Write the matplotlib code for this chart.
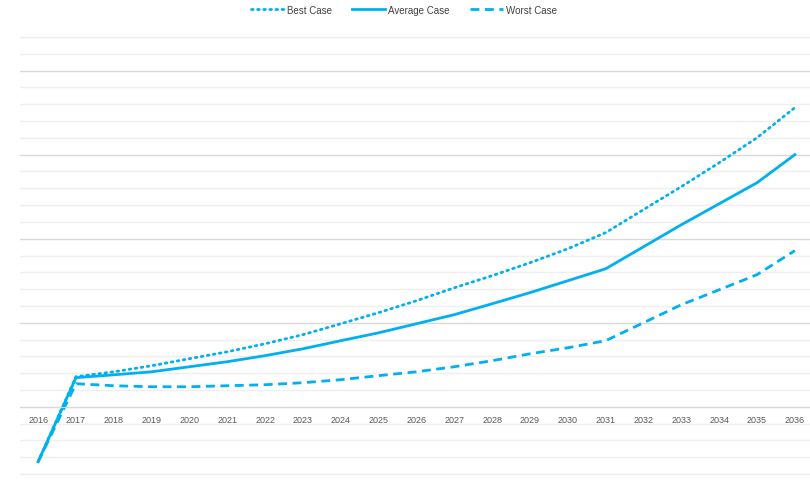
import matplotlib.pyplot as plt
from matplotlib.ticker import MultipleLocator

plt.rcParams['font.family'] = ['Liberation Sans', 'DejaVu Sans']

years = list(range(2016, 2037))

best_case = [-3.27, 1.79, 2.08, 2.44, 2.86, 3.27, 3.75, 4.29, 4.94, 5.60, 6.31,
             7.08, 7.80, 8.57, 9.40, 10.36, 11.73, 13.10, 14.52, 16.01, 17.80]
average_case = [-3.27, 1.73, 1.90, 2.08, 2.38, 2.68, 3.04, 3.45, 3.93, 4.40, 4.94,
                5.48, 6.13, 6.79, 7.50, 8.21, 9.52, 10.83, 12.08, 13.33, 15.00]
worst_case = [-3.27, 1.37, 1.25, 1.19, 1.19, 1.25, 1.31, 1.43, 1.61, 1.85, 2.08,
              2.38, 2.74, 3.15, 3.51, 3.93, 5.00, 6.07, 6.96, 7.86, 9.29]

blue = '#00b0f0'

fig = plt.figure(figsize=(8.1, 4.89), dpi=100)
ax = fig.add_axes([20 / 810, 1 - 480 / 489, 790 / 810, 447 / 489])

ax.plot(years, best_case, color=blue, lw=2.0, linestyle=(0, (0.6, 1.6)),
        dash_capstyle='round', label='Best Case')
ax.plot(years, average_case, color=blue, lw=2.0, label='Average Case')
ax.plot(years, worst_case, color=blue, lw=2.0, linestyle=(0, (3.2, 2.0)),
        label='Worst Case')

ax.set_xlim(2015.52, 2036.40)
ax.set_ylim(-4.3, 22.3)

# light grid every unit, darker every five
ax.yaxis.set_major_locator(MultipleLocator(5))
ax.yaxis.set_minor_locator(MultipleLocator(1))
ax.grid(True, which='minor', axis='y', color='#efefef', lw=1.0)
ax.grid(True, which='major', axis='y', color='#d9d9d9', lw=1.0)
ax.set_axisbelow(True)
ax.tick_params(axis='y', which='both', length=0, labelleft=False)

# year labels sit on the zero line
for s in ['top', 'right', 'left']:
    ax.spines[s].set_visible(False)
ax.spines['bottom'].set_position(('data', 0))
ax.spines['bottom'].set_color('#d9d9d9')
ax.set_xticks(years)
ax.set_xticklabels([str(y) for y in years])
ax.tick_params(axis='x', length=0, pad=6, labelsize=6.5, labelcolor='#595959')

ax.legend(loc='upper center', bbox_to_anchor=(0.5 - 11 / 790, 1 + 36 / 447),
          ncol=3, frameon=False, fontsize=7, handlelength=3.4,
          columnspacing=2.1, handletextpad=0.3, labelcolor='#404040')

fig.savefig('out.png', dpi=100)
